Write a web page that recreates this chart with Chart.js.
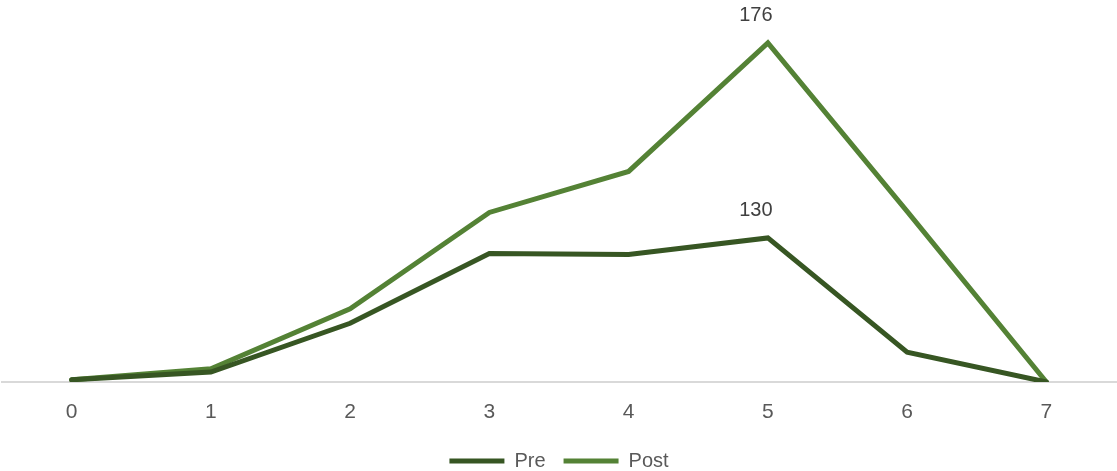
<!DOCTYPE html>
<html>
<head>
<meta charset="utf-8">
<script src="https://cdn.jsdelivr.net/npm/chart.js"></script>
<style>
  html, body { margin: 0; padding: 0; background: #ffffff; }
  #wrap { width: 1117px; height: 471px; position: relative; }
</style>
</head>
<body>
<div id="wrap"><canvas id="lineChart"></canvas></div>
<script>
// --- chart data (stacked line: Post sits on top of Pre) ---
const categories = ['0', '1', '2', '3', '4', '5', '6', '7'];
const preValues = [2, 9, 53, 116, 115, 130, 27, 0];
const postValues = [0, 3, 13, 37, 75, 176, 127, 0];
const labelledIndex = 5; // only the peak carries a data label

const preColor = '#375623';
const postColor = '#548235';
const fontFamily = '"Liberation Sans", Arial, sans-serif';

// draws the value labels above the peak point of each series
const peakLabels = {
    id: 'peakLabels',
    afterDatasetsDraw(chart) {
        const { ctx } = chart;
        ctx.save();
        ctx.font = '20px ' + fontFamily;
        ctx.fillStyle = '#404040';
        ctx.textAlign = 'center';
        ctx.textBaseline = 'middle';
        chart.data.datasets.forEach((ds, i) => {
            const pt = chart.getDatasetMeta(i).data[labelledIndex];
            ctx.fillText(String(ds.data[labelledIndex]), pt.x - 12, pt.y - 27);
        });
        ctx.restore();
    }
};

new Chart(document.getElementById('lineChart'), {
    type: 'line',
    data: {
        labels: categories,
        datasets: [
            {
                label: 'Pre',
                data: preValues,
                borderColor: preColor,
                backgroundColor: preColor,
                borderWidth: 5,
                borderCapStyle: 'round',
                pointRadius: 0,
                fill: false,
                tension: 0
            },
            {
                label: 'Post',
                data: postValues,
                borderColor: postColor,
                backgroundColor: postColor,
                borderWidth: 5,
                borderCapStyle: 'round',
                pointRadius: 0,
                fill: false,
                tension: 0
            }
        ]
    },
    options: {
        responsive: true,
        maintainAspectRatio: false,
        animation: false,
        layout: { padding: { top: 3, left: 2, right: 1, bottom: -10 } },
        scales: {
            x: {
                offset: true,
                grid: { display: false, drawTicks: false },
                border: { display: true, color: '#d9d9d9', width: 2 },
                ticks: {
                    color: '#595959',
                    padding: 18,
                    font: { family: fontFamily, size: 21 }
                },
                afterFit(scale) {
                    scale.height = 51;
                }
            },
            y: {
                display: false,
                stacked: true,
                min: 0,
                max: 342
            }
        },
        plugins: {
            legend: {
                position: 'bottom',
                labels: {
                    color: '#595959',
                    boxWidth: 55,
                    boxHeight: 5,
                    padding: 18,
                    font: { family: fontFamily, size: 20 },
                    generateLabels(chart) {
                        return chart.data.datasets.map((ds, i) => ({
                            text: ds.label,
                            fillStyle: ds.borderColor,
                            strokeStyle: ds.borderColor,
                            lineWidth: 0,
                            fontColor: '#595959',
                            datasetIndex: i
                        }));
                    }
                }
            },
            tooltip: { enabled: false }
        }
    },
    plugins: [peakLabels]
});
</script>
</body>
</html>
